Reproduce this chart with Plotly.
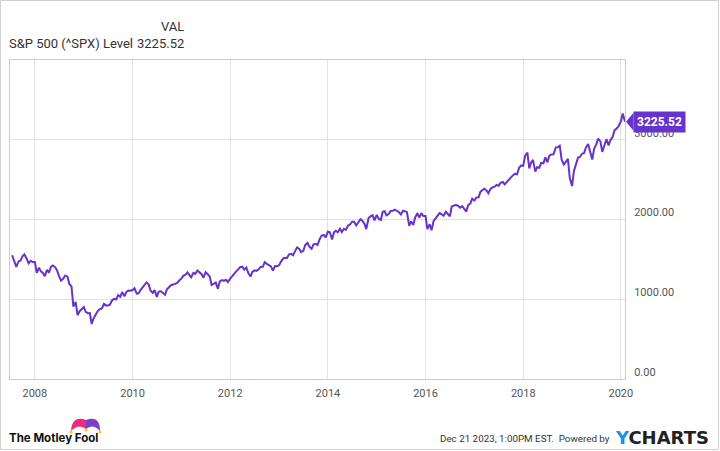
import pandas as pd
import plotly.graph_objects as go

# S&P 500 level, semi-monthly samples (1st and 15th)
spx_2007 = [1552, 1455, 1406, 1474, 1484, 1540, 1562, 1509, 1451, 1481, 1467]
spx_2008 = [1468, 1330, 1395, 1349, 1331, 1288, 1370, 1334, 1409, 1424, 1400, 1360,
            1284, 1234, 1260, 1298, 1283, 1192, 1161, 907, 968, 800, 850, 880]
spx_2009 = [903, 843, 826, 827, 690, 760, 811, 852, 877, 883, 942, 923,
            923, 932, 987, 1004, 998, 1052, 1029, 1090, 1036, 1093, 1109, 1107]
spx_2010 = [1115, 1137, 1070, 1075, 1115, 1150, 1178, 1211, 1187, 1110, 1080, 1115,
            1030, 1096, 1101, 1079, 1055, 1125, 1146, 1176, 1184, 1199, 1206, 1235]
spx_2011 = [1258, 1293, 1307, 1336, 1306, 1275, 1332, 1319, 1361, 1338, 1315, 1270,
            1339, 1316, 1286, 1178, 1200, 1209, 1131, 1224, 1240, 1230, 1244, 1215]
spx_2012 = [1258, 1289, 1324, 1350, 1374, 1402, 1408, 1370, 1398, 1330, 1285, 1342,
            1362, 1356, 1375, 1405, 1406, 1465, 1444, 1430, 1412, 1360, 1416, 1413]
spx_2013 = [1426, 1472, 1513, 1520, 1518, 1560, 1569, 1552, 1597, 1650, 1631, 1590,
            1606, 1680, 1706, 1661, 1633, 1688, 1695, 1680, 1757, 1798, 1806, 1775]
spx_2014 = [1848, 1840, 1750, 1838, 1859, 1841, 1885, 1842, 1884, 1870, 1924, 1937,
            1973, 1973, 1925, 1955, 2003, 1985, 1946, 1880, 2018, 2039, 2054, 1989]
spx_2015 = [2058, 2010, 1995, 2096, 2104, 2053, 2068, 2106, 2108, 2123, 2107, 2094,
            2063, 2108, 2104, 2091, 1920, 1978, 1931, 2023, 2079, 2023, 2080, 2043]
spx_2016 = [2044, 1880, 1940, 1865, 1978, 2015, 2060, 2080, 2065, 2047, 2097, 2071,
            2040, 2162, 2174, 2184, 2171, 2147, 2168, 2133, 2100, 2180, 2199, 2262]
spx_2017 = [2239, 2275, 2279, 2349, 2364, 2385, 2363, 2329, 2384, 2402, 2412, 2433,
            2423, 2459, 2470, 2440, 2472, 2500, 2519, 2553, 2575, 2565, 2648, 2676]
spx_2018 = [2674, 2800, 2840, 2640, 2714, 2748, 2600, 2656, 2648, 2711, 2705, 2780,
            2718, 2801, 2816, 2818, 2902, 2905, 2925, 2750, 2690, 2730, 2760, 2520]
spx_2019 = [2420, 2610, 2704, 2776, 2784, 2822, 2834, 2905, 2946, 2850, 2752, 2886,
            2942, 3014, 2980, 2847, 2926, 3007, 2930, 2996, 3038, 3120, 3141, 3169]
spx_2020 = [3231, 3329, 3225.52]

values = (spx_2007 + spx_2008 + spx_2009 + spx_2010 + spx_2011 + spx_2012 + spx_2013
          + spx_2014 + spx_2015 + spx_2016 + spx_2017 + spx_2018 + spx_2019 + spx_2020)
dates = pd.date_range("2007-07-15", periods=len(values), freq="SMS")
last_value = values[-1]

LINE = "#6633cc"
FONT = "Roboto"

# plot area in pixels, used to place the header / footer decorations
L, R, T, B = 10, 625, 60, 379


def px(x):
    return (x - L) / (R - L)


def py(y):
    return (B - y) / (B - T)


fig = go.Figure()
fig.add_trace(go.Scatter(x=dates, y=values, mode="lines",
                         line=dict(color=LINE, width=2), hoverinfo="x+y"))

fig.update_layout(
    width=720, height=451,
    margin=dict(l=L, r=720 - R, t=T, b=451 - B),
    paper_bgcolor="white", plot_bgcolor="white",
    showlegend=False,
    font=dict(family=FONT, color="#555555", size=11),
)
fig.update_xaxes(
    range=["2007-06-29", "2020-02-01"],
    tick0="2008-01-01", dtick="M24", tickformat="%Y",
    showgrid=True, gridcolor="#e3e3e3", gridwidth=1,
    showline=True, linecolor="#cccccc", mirror=True,
    ticks="", zeroline=False, ticklabelstandoff=4,
)
fig.update_yaxes(
    range=[0, 4000], side="right",
    tickvals=[0, 1000, 2000, 3000], tickformat=".2f",
    showgrid=True, gridcolor="#e3e3e3", gridwidth=1,
    showline=True, linecolor="#cccccc", mirror=True,
    ticks="", zeroline=False, ticklabelshift=-7, ticklabelstandoff=6,
)

# last value tag
fig.add_annotation(x=1, xref="paper", y=last_value, yref="y", xanchor="left", xshift=8,
                   text=f"<b>{last_value:.2f}</b>", showarrow=False,
                   font=dict(color="white", size=12, family=FONT),
                   bgcolor=LINE, borderpad=3)
h = 9 * 4000 / (B - T)
fig.add_shape(type="path", xref="paper", yref="y", line_width=0, fillcolor=LINE,
              path=f"M {px(626)} {last_value} L {px(633.5)} {last_value + h} "
                   f"L {px(633.5)} {last_value - h} Z")

# header
hdr = dict(showarrow=False, xref="paper", yref="paper", yanchor="middle",
           font=dict(family=FONT, size=13, color="#333333"))
fig.add_annotation(x=px(186), y=py(26), xanchor="right", text="VAL", **hdr)
fig.add_annotation(x=px(7), y=py(44), xanchor="left", text="S&P 500 (^SPX) Level", **hdr)
fig.add_annotation(x=px(186), y=py(44), xanchor="right", text="3225.52", **hdr)

# footer
fig.add_annotation(x=px(7), y=py(438), xref="paper", yref="paper", xanchor="left",
                   yanchor="middle", showarrow=False, text="<b>The Motley Fool</b>",
                   font=dict(family="Inter", size=11.5, color="#111111"))
fig.add_annotation(x=px(612), y=py(438), xref="paper", yref="paper", xanchor="right",
                   yanchor="middle", showarrow=False,
                   text="Dec 21 2023, 1:00PM EST.  Powered by",
                   font=dict(family=FONT, size=9.8, color="#333333"))
fig.add_annotation(x=px(613), y=py(437), xref="paper", yref="paper", xanchor="left",
                   yanchor="middle", showarrow=False,
                   text="<span style='color:#1a8fe3'>Y</span>CHARTS",
                   font=dict(family="DejaVu Sans", size=18, color="#222222", weight="bold"))

# jester hat of the logo
pink = (f"M {px(71)} {py(431)} Q {px(72)} {py(415)} {px(86)} {py(420)} "
        f"L {px(86)} {py(429)} Q {px(79)} {py(423)} {px(71)} {py(431)} Z")
purple = (f"M {px(86)} {py(420)} Q {px(100)} {py(415)} {px(100)} {py(431)} "
          f"Q {px(93)} {py(423)} {px(86)} {py(429)} Z")
fig.add_shape(type="path", xref="paper", yref="paper", path=pink,
              fillcolor="#ee2a7b", line_width=0)
fig.add_shape(type="path", xref="paper", yref="paper", path=purple,
              fillcolor="#7c3fc8", line_width=0)
for cx, cy in [(71, 432), (86, 430), (100, 432)]:
    fig.add_shape(type="circle", xref="paper", yref="paper",
                  x0=px(cx - 1.6), x1=px(cx + 1.6), y0=py(cy + 1.6), y1=py(cy - 1.6),
                  fillcolor="#ffc20e", line_width=0)

# outer frame of the image
fig.add_shape(type="rect", xref="paper", yref="paper",
              x0=px(0.5), x1=px(718.5), y0=py(449.5), y1=py(0.5),
              line=dict(color="#d0d0d0", width=1))

# drop the browser's default page margin so the figure sits at the window's corner
fig.write_html("out.html", config={"displayModeBar": False},
               post_script="document.body.style.margin = '0';")
